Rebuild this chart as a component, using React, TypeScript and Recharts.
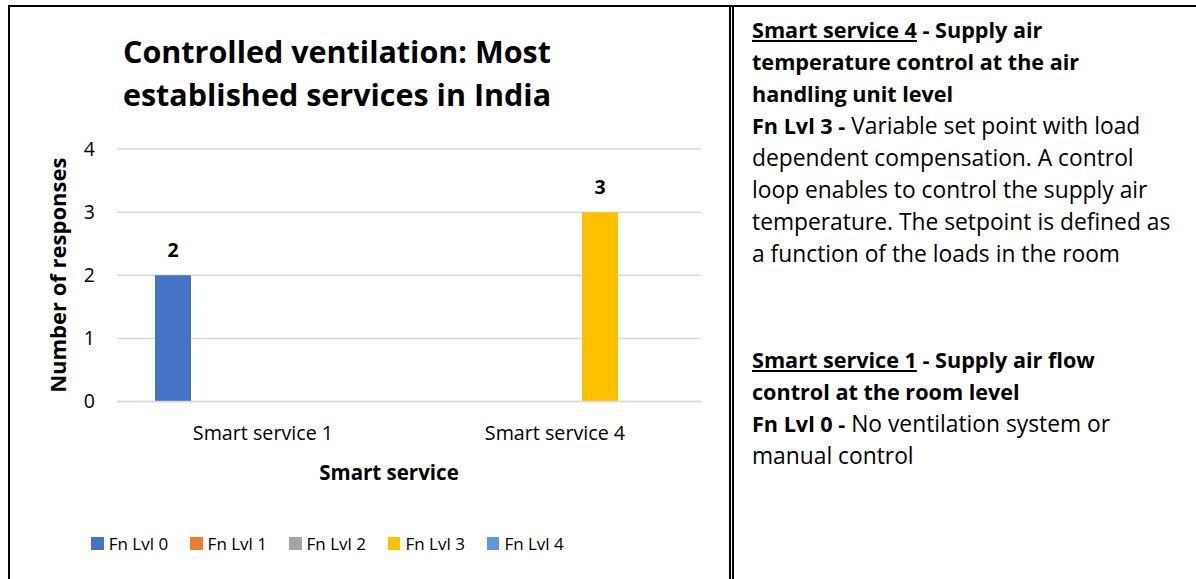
import React from 'react';
import { BarChart, Bar, XAxis, YAxis, CartesianGrid, Legend, LabelList } from 'recharts';

const categories: string[] = ['Smart service 1', 'Smart service 4'];
const seriesNames: string[] = ['Fn Lvl 0', 'Fn Lvl 1', 'Fn Lvl 2', 'Fn Lvl 3', 'Fn Lvl 4'];
const fnLvl0: (number | null)[] = [2, null];
const fnLvl1: (number | null)[] = [null, null];
const fnLvl2: (number | null)[] = [null, null];
const fnLvl3: (number | null)[] = [null, 3];
const fnLvl4: (number | null)[] = [null, null];
const yTicks: number[] = [0, 1, 2, 3, 4];
const colors: string[] = ['#4472C4', '#ED7D31', '#A5A5A5', '#FFC000', '#5B9BD5'];

const seriesValues = [fnLvl0, fnLvl1, fnLvl2, fnLvl3, fnLvl4];
const data = categories.map((c, i) => {
  const row: Record<string, any> = { category: c };
  seriesNames.forEach((s, k) => {
    row[s] = seriesValues[k][i];
  });
  return row;
});

const FONT = '"Open Sans", "Noto Sans", sans-serif';

const renderValueLabel = (props: any) => {
  const { x, y, width, value } = props;
  if (value === null || value === undefined || value === 0) return null;
  return (
    <text x={x + width / 2} y={y - 18} textAnchor="middle" fontFamily={FONT} fontWeight={700} fontSize={19.5} fill="#000">
      {value}
    </text>
  );
};

const LegendContent = () => (
  <div style={{ display: 'flex', justifyContent: 'center', alignItems: 'center', fontFamily: FONT, fontSize: 17, color: '#000' }}>
    {seriesNames.map((s, k) => (
      <div key={s} style={{ display: 'flex', alignItems: 'center', marginRight: k < seriesNames.length - 1 ? 22 : 0 }}>
        <div style={{ width: 12.5, height: 12.5, background: colors[k], marginRight: 5 }} />
        <span style={{ whiteSpace: 'nowrap' }}>{s}</span>
      </div>
    ))}
  </div>
);

const B = ({ children }: { children: React.ReactNode }) => (
  <b style={{ fontSize: 21.6 }}>{children}</b>
);

export default function App() {
  return (
    <div style={{ position: 'absolute', left: 0, top: 0, width: 1196, height: 579, background: '#fff', overflow: 'hidden' }}>
      <div style={{ position: 'absolute', left: 8, top: 29.5, width: 658, textAlign: 'center', fontFamily: FONT, fontWeight: 700, fontSize: 30.5, lineHeight: '43px', color: '#000' }}>
        Controlled ventilation: Most
        <br />
        established services in India
      </div>
      <div style={{ position: 'absolute', left: 8, top: 0 }}>
        <BarChart
          width={722}
          height={579}
          data={data}
          margin={{ top: 149, right: 29, left: 0, bottom: 97.5 }}
          barSize={36}
          barGap={9}
        >
          <CartesianGrid vertical={false} stroke="#d9d9d9" strokeWidth={1.5} />
          <XAxis
            dataKey="category"
            axisLine={{ stroke: '#d9d9d9', strokeWidth: 1.5 }}
            tickLine={false}
            tickSize={0}
            tickMargin={25}
            height={80}
            tick={{ fontFamily: FONT, fontSize: 19.7, fill: '#000' }}
            label={{ value: 'Smart service', position: 'insideBottom', offset: 1.5, dx: -20, style: { fontFamily: FONT, fontWeight: 700, fontSize: 20.5, fill: '#000' } }}
          />
          <YAxis
            domain={[0, 4]}
            ticks={yTicks}
            axisLine={false}
            tickLine={false}
            tickSize={0}
            tickMargin={22}
            width={109}
            tick={{ fontFamily: FONT, fontSize: 19.5, fill: '#000' }}
            label={{ value: 'Number of responses', angle: -90, position: 'center', dx: -4, style: { fontFamily: FONT, fontWeight: 700, fontSize: 22, fill: '#000' } }}
          />
          <Legend
            verticalAlign="middle"
            align="center"
            layout="horizontal"
            content={<LegendContent />}
            wrapperStyle={{ top: 532, left: 0, width: 639 }}
          />
          {seriesNames.map((s, k) => (
            <Bar key={s} dataKey={s} fill={colors[k]} isAnimationActive={false}>
              <LabelList dataKey={s} content={renderValueLabel} />
            </Bar>
          ))}
        </BarChart>
      </div>
      <div style={{ position: 'absolute', left: 752, top: 13.5, fontFamily: FONT, fontSize: 22.8, lineHeight: '32px', color: '#000', whiteSpace: 'nowrap' }}>
        <B><u>Smart service 4</u> - Supply air</B>
        <br />
        <B>temperature control at the air</B>
        <br />
        <B>handling unit level</B>
        <br />
        <B>Fn Lvl 3 -</B> Variable set point with load
        <br />
        dependent compensation. A control
        <br />
        loop enables to control the supply air
        <br />
        temperature. The setpoint is defined as
        <br />
        a function of the loads in the room
      </div>
      <div style={{ position: 'absolute', left: 752, top: 344, fontFamily: FONT, fontSize: 22.8, lineHeight: '32px', color: '#000', whiteSpace: 'nowrap' }}>
        <B><u>Smart service 1</u> - Supply air flow</B>
        <br />
        <B>control at the room level</B>
        <br />
        <B>Fn Lvl 0 -</B> No ventilation system or
        <br />
        manual control
      </div>
      <div style={{ position: 'absolute', left: 8, top: 5, width: 1188, height: 2, background: '#000' }} />
      <div style={{ position: 'absolute', left: 8, top: 5, width: 2, height: 574, background: '#000' }} />
      <div style={{ position: 'absolute', left: 729, top: 5, width: 0, height: 574, borderLeft: '5px double #000' }} />
    </div>
  );
}
